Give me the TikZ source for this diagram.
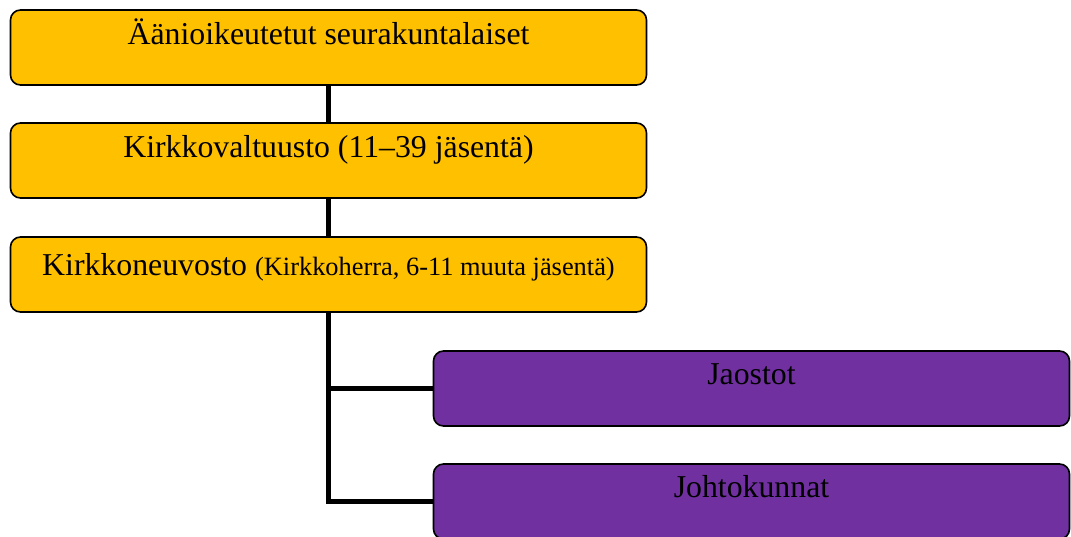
\documentclass[tikz,border=0pt]{standalone}
\usepackage{fontspec}
\setmainfont{Liberation Serif}
\definecolor{orggold}{HTML}{FFC000}
\definecolor{orgpurple}{HTML}{7030A0}
\tikzset{
  orgbox/.style={draw=black, line width=1.6pt, rounded corners=10pt,
    minimum width=636pt, inner sep=0pt, align=center,
    font=\fontsize{31.8}{38}\selectfont},
  upper/.style={orgbox, fill=orggold, text height=34pt, text depth=41pt},
  lower/.style={orgbox, fill=orgpurple, text height=33pt, text depth=42pt},
  conn/.style={draw=black, line width=5pt, line join=miter}
}
\begin{document}
\begin{tikzpicture}[x=1pt,y=-1pt]
  \useasboundingbox (0,0) rectangle (1071,536);
  \clip (0,0) rectangle (1071,536);
  % governing bodies
  \node[upper] (voters) at (328.5,47.5) {Äänioikeutetut seurakuntalaiset};
  \node[upper] (council) at (328.5,160.5) {Kirkkovaltuusto (11–39 jäsentä)};
  \node[upper, text height=38pt, text depth=37pt] (board) at (328.5,274.5)
    {Kirkkoneuvosto {\fontsize{26.4}{30}\selectfont(Kirkkoherra, 6-11 muuta jäsentä)}};
  % subordinate bodies
  \node[lower] (sections) at (751.5,388.5) {Jaostot};
  \node[lower] (boards) at (751.5,501.5) {Johtokunnat};
  % connectors
  \draw[conn] (voters.south) -- (council.north);
  \draw[conn] (council.south) -- (board.north);
  \draw[conn] (board.south) |- (sections.west);
  \draw[conn] (board.south) |- (boards.west);
\end{tikzpicture}
\end{document}
